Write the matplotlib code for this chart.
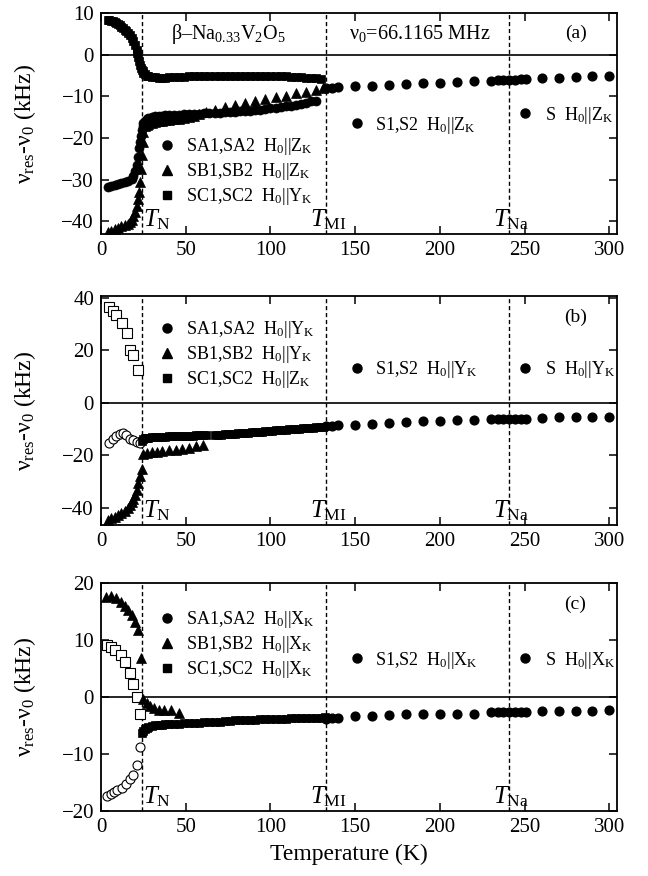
import matplotlib
matplotlib.use('Agg')
import matplotlib.pyplot as plt
import matplotlib.transforms as mtransforms
from matplotlib.lines import Line2D

plt.rcParams['font.family'] = ['Liberation Serif', 'DejaVu Serif']
plt.rcParams['mathtext.fontset'] = 'custom'
plt.rcParams['mathtext.rm'] = 'Liberation Serif'
plt.rcParams['mathtext.it'] = 'Liberation Serif:italic'
plt.rcParams['mathtext.bf'] = 'Liberation Serif:bold'

# transition temperatures (K): T_N, T_MI, T_Na
T_trans = [24, 133, 241]
trans_names = ['$T_\\mathrm{N}$', '$T_\\mathrm{MI}$', '$T_\\mathrm{Na}$']

# high temperature lines (S1,S2 and S), same temperatures in all panels
T_S = [133, 136.5, 140, 150, 160, 170, 180, 190, 200, 210, 220, 230, 234, 237.5,
       241, 244.5, 248, 251, 260, 270, 280, 290, 300]

# ---- panel (a) ----
T_SA_a = [4, 6, 8, 10, 12, 14, 16, 18, 19, 20, 21, 22, 22.5, 23, 23.5, 24, 24.5, 25, 26, 27,
          28, 30, 32, 34, 36, 38, 40, 43, 46, 49, 52, 55, 58, 61, 64, 67, 70, 73, 76, 79,
          82, 85, 88, 91, 94, 97, 100, 103, 106, 109, 112, 115, 118, 121, 124, 127]
v_SA_a = [-31.8, -31.5, -31.3, -31.0, -30.8, -30.6, -30.3, -29.8, -29.0, -28.0,
          -26.5, -24.5, -22.5, -21.0, -19.5, -18.0, -17.2, -16.5, -15.8, -15.4,
          -15.2, -14.9, -14.8, -14.7, -14.6, -14.5, -14.5, -14.4, -14.4, -14.3,
          -14.3, -14.2, -14.2, -14.1, -14.0, -14.0, -13.9, -13.8, -13.8, -13.7,
          -13.6, -13.5, -13.4, -13.3, -13.2, -13.0, -12.9, -12.8, -12.6, -12.4,
          -12.2, -12.0, -11.8, -11.5, -11.2, -11.0]
T_SB_a = [4, 6, 8, 10, 12, 14, 16, 17, 18, 19, 20, 21, 22, 22.5, 23, 23.5, 24, 24.5, 25, 26,
          27, 28, 30, 32, 34, 36, 38, 40, 43, 46, 49, 52, 55, 58, 62, 67, 73, 79, 85, 91,
          97, 103, 109, 115, 121, 127, 131]
v_SB_a = [-42.6, -42.2, -41.8, -41.5, -41.2, -40.8, -40.5, -40.2, -39.6, -38.8,
          -37.8, -36.4, -34.5, -33.0, -30.5, -27.5, -24.0, -21.0, -18.5, -17.2,
          -16.8, -16.6, -16.3, -16.1, -15.9, -15.8, -15.7, -15.6, -15.5, -15.4,
          -15.2, -15.0, -14.7, -14.3, -13.8, -13.2, -12.5, -12.0, -11.5, -11.0,
          -10.6, -10.2, -9.8, -9.3, -8.9, -8.4, -7.9]
T_SC_a = [4, 5, 6, 7, 8, 9, 10, 11, 12, 13, 14, 15, 16, 17, 18, 19, 20, 21, 21.5, 22,
          22.5, 23, 23.5, 24, 24.5, 25, 26, 27, 28, 30, 32, 34, 36, 38, 40, 43, 46, 49, 52, 55,
          58, 61, 64, 67, 70, 73, 76, 79, 82, 85, 88, 91, 94, 97, 100, 103, 106, 109, 112, 115,
          118, 121, 124, 127, 130]
v_SC_a = [8.3, 8.2, 8.1, 8.0, 7.8, 7.6, 7.3, 7.0, 6.7, 6.4,
          6.0, 5.6, 5.1, 4.6, 4.0, 3.2, 2.3, 1.2, 0.4, -0.5,
          -1.5, -2.4, -3.1, -3.6, -4.0, -4.3, -4.7, -5.0, -5.1, -5.3,
          -5.4, -5.5, -5.5, -5.5, -5.4, -5.4, -5.3, -5.3, -5.2, -5.2,
          -5.2, -5.1, -5.1, -5.1, -5.1, -5.1, -5.0, -5.0, -5.0, -5.0,
          -5.0, -5.0, -5.1, -5.1, -5.1, -5.1, -5.2, -5.2, -5.3, -5.3,
          -5.4, -5.5, -5.6, -5.7, -5.8]
v_S_a = [-7.9, -7.9, -7.8, -7.6, -7.4, -7.2, -7.0, -6.9, -6.7, -6.5, -6.3, -6.2,
         -6.1, -6.1, -6.0, -6.0, -5.9, -5.9, -5.7, -5.5, -5.4, -5.2, -5.1]

# ---- panel (b) ----
T_SAo_b = [5, 7, 9, 11, 13, 15, 17, 19, 21, 23]
v_SAo_b = [-15.4, -13.8, -12.8, -12.0, -11.4, -12.4, -13.6, -14.3, -14.8, -15.2]
T_SCo_b = [5, 7, 9, 12.5, 15.5, 17, 19, 22]
v_SCo_b = [36.7, 34.8, 33.5, 30.4, 26.8, 20.2, 18.3, 12.6]
T_SB_b = [4, 6, 8, 10, 12, 14, 16, 17, 18, 19, 20, 21, 22, 23, 24,
          25, 27, 30, 33, 36, 40, 44, 48, 52, 56, 60]
v_SB_b = [-44.6, -44.0, -43.4, -42.8, -42.0, -41.2, -40.0, -39.0, -37.8, -36.5,
          -35.0, -33.0, -30.6, -28.0, -25.0, -19.3, -19.0, -18.8, -18.6, -18.4,
          -18.1, -17.8, -17.4, -17.0, -16.6, -16.2]
T_SC_b = [24, 25, 26, 27, 28, 30, 32, 34, 36, 38, 40, 42, 44, 46, 48, 50, 52, 54, 56, 58,
          60, 62, 67, 69, 71, 73, 75, 77, 79, 81, 83, 85, 87, 89, 91, 93, 95, 97, 99, 101,
          103, 105, 107, 109, 111, 113, 115, 117, 119, 121, 123, 125, 127, 129, 131]
v_SC_b = [-14.5, -13.6, -13.4, -13.3, -13.2, -13.1, -13.0, -13.0, -12.9, -12.9,
          -12.8, -12.8, -12.7, -12.7, -12.6, -12.6, -12.5, -12.5, -12.4, -12.4,
          -12.3, -12.3, -12.3, -12.2, -12.1, -12.0, -11.9, -11.8, -11.7, -11.6,
          -11.5, -11.4, -11.3, -11.2, -11.1, -11.0, -10.9, -10.8, -10.7, -10.6,
          -10.5, -10.4, -10.3, -10.2, -10.1, -10.0, -9.9, -9.8, -9.7, -9.6,
          -9.5, -9.4, -9.3, -9.2, -9.1]
v_S_b = [-8.9, -8.8, -8.6, -8.4, -8.1, -7.6, -7.2, -7.0, -6.8, -6.7, -6.4, -6.2,
         -6.2, -6.2, -6.1, -6.1, -6.1, -6.0, -5.7, -5.5, -5.4, -5.3, -5.2]

# ---- panel (c) ----
T_SAo_c = [3.3, 5.7, 7.6, 9.6, 12.2, 14.7, 17.1, 19, 21, 23]
v_SAo_c = [-17.4, -17.0, -16.7, -16.4, -16.0, -15.3, -14.4, -13.7, -11.9, -8.8]
T_SCo_c = [3.5, 6, 8.5, 12, 14, 17, 19, 21, 23]
v_SCo_c = [9.1, 8.7, 8.2, 7.4, 6.2, 4.2, 2.3, 0.05, -2.9]
T_SB_c = [3, 6, 9, 12, 14, 16, 18, 20, 22, 23.5, 25, 27, 29, 31, 34, 37, 41, 46]
v_SB_c = [17.6, 17.8, 17.3, 16.7, 15.9, 15.3, 14.4, 13.2, 11.8, 6.8,
          -0.4, -1.1, -1.5, -1.9, -2.2, -2.3, -2.3, -2.8]
T_SC_c = [24, 25, 26, 27, 28, 30, 32, 34, 36, 38, 40, 43, 46, 49, 52, 55, 58, 61, 64, 67,
          70, 73, 76, 79, 82, 85, 88, 91, 94, 97, 100, 103, 106, 109, 112, 115, 118, 121, 124, 127,
          130, 132]
v_SC_c = [-6.4, -6.0, -5.7, -5.5, -5.3, -5.1, -5.0, -4.9, -4.9, -4.8,
          -4.8, -4.7, -4.7, -4.6, -4.6, -4.5, -4.5, -4.4, -4.4, -4.3,
          -4.3, -4.2, -4.2, -4.1, -4.1, -4.0, -4.0, -4.0, -3.9, -3.9,
          -3.9, -3.8, -3.8, -3.8, -3.7, -3.7, -3.7, -3.7, -3.6, -3.6,
          -3.6, -3.5]
v_S_c = [-3.8, -3.7, -3.6, -3.4, -3.3, -3.1, -3.0, -2.9, -2.9, -2.9, -2.9, -2.7,
         -2.7, -2.7, -2.7, -2.7, -2.7, -2.6, -2.4, -2.4, -2.4, -2.4, -2.2]

legend_a = ['SA1,SA2  H$_0$||Z$_\\mathrm{K}$', 'SB1,SB2  H$_0$||Z$_\\mathrm{K}$', 'SC1,SC2  H$_0$||Y$_\\mathrm{K}$']
legend_b = ['SA1,SA2  H$_0$||Y$_\\mathrm{K}$', 'SB1,SB2  H$_0$||Y$_\\mathrm{K}$', 'SC1,SC2  H$_0$||Z$_\\mathrm{K}$']
legend_c = ['SA1,SA2  H$_0$||X$_\\mathrm{K}$', 'SB1,SB2  H$_0$||X$_\\mathrm{K}$', 'SC1,SC2  H$_0$||X$_\\mathrm{K}$']

fig = plt.figure(figsize=(6.48, 8.76), dpi=100)
ax_a = fig.add_axes([0.1559, 0.7329, 0.7963, 0.2523])
ax_b = fig.add_axes([0.1559, 0.4007, 0.7963, 0.2614])
ax_c = fig.add_axes([0.1559, 0.0742, 0.7963, 0.2603])

LEG_FS = 13


def style_axes(ax, ylim, yticks):
    ax.set_xlim(0, 304.5)
    ax.set_ylim(*ylim)
    ax.set_xticks([0, 50, 100, 150, 200, 250, 300])
    ax.set_yticks(yticks)
    ax.tick_params(direction='in', top=True, right=True, length=6, width=1.1,
                   labelsize=15, pad=5)
    for s in ax.spines.values():
        s.set_linewidth(1.3)
    ax.axhline(0, color='k', lw=1.2, zorder=1)
    for t in T_trans:
        ax.axvline(t, color='k', lw=1.0, dashes=(3, 2), zorder=1)
    ax.set_ylabel('ν$_\\mathrm{res}$-ν$_0$ (kHz)', fontsize=17)
    ax.yaxis.set_label_coords(-0.122, 0.5)
    tr = mtransforms.blended_transform_factory(ax.transData, ax.transAxes)
    ax.text(T_trans[0] + 1, 0.01, trans_names[0], transform=tr, fontsize=18,
            ha='left', va='bottom')
    for t, name in zip(T_trans[1:], trans_names[1:]):
        ax.text(t + 1, 0.01, name, transform=tr, fontsize=18, ha='center', va='bottom')


def add_legends(ax, labels, ypos, name, y12, y_s):
    handles = [Line2D([], [], ls='none', marker=m, color='k', ms=s)
               for m, s in (('o', 6.5), ('^', 7), ('s', 5.5))]
    leg = ax.legend(handles, labels, loc='upper left', bbox_to_anchor=(0.11, ypos),
                    frameon=False, fontsize=LEG_FS, handlelength=1.0, handletextpad=0.55,
                    labelspacing=0.22, borderpad=0, borderaxespad=0)
    ax.add_artist(leg)
    dot = [Line2D([], [], ls='none', marker='o', color='k', ms=6.5)]
    leg2 = ax.legend(dot, ['S1,S2  H$_0$||%s$_\\mathrm{K}$' % name], loc='center left',
                     bbox_to_anchor=(0.479, y12), frameon=False, fontsize=LEG_FS,
                     handlelength=1.0, handletextpad=0.5, borderpad=0, borderaxespad=0)
    ax.add_artist(leg2)
    # the last one stays as the axes' own legend (drawn once)
    ax.legend(dot, ['S  H$_0$||%s$_\\mathrm{K}$' % name], loc='center left',
              bbox_to_anchor=(0.804, y_s), frameon=False, fontsize=LEG_FS,
              handlelength=1.0, handletextpad=0.6, borderpad=0, borderaxespad=0)


# panel (a)
style_axes(ax_a, (-43, 10), [-40, -30, -20, -10, 0, 10])
ax_a.plot(T_SB_a, v_SB_a, ls='none', marker='^', color='k', ms=7, mew=0.5)
ax_a.plot(T_SA_a, v_SA_a, ls='none', marker='o', color='k', ms=6.5, mew=0.5)
ax_a.plot(T_SC_a, v_SC_a, ls='none', marker='s', color='k', ms=5.5, mew=0.5)
ax_a.plot(T_S, v_S_a, ls='none', marker='o', color='k', ms=6.3)
add_legends(ax_a, legend_a, 0.443, 'Z', 0.493, 0.538)
ax_a.text(75, 5, 'β–Na$_{0.33}$V$_2$O$_5$', fontsize=14.5, ha='center', va='center')
ax_a.text(188, 5, 'ν$_0$=66.1165 MHz', fontsize=14.5, ha='center', va='center')
ax_a.text(280, 5, '(a)', fontsize=14, ha='center', va='center')

# panel (b)
style_axes(ax_b, (-46.5, 40.7), [-40, -20, 0, 20, 40])
ax_b.plot(T_SCo_b, v_SCo_b, ls='none', marker='s', mfc='white', mec='k', ms=7, mew=0.8)
ax_b.plot(T_SAo_b, v_SAo_b, ls='none', marker='o', mfc='white', mec='k', ms=6.5, mew=0.8)
ax_b.plot(T_SB_b, v_SB_b, ls='none', marker='^', color='k', ms=7, mew=0.5)
ax_b.plot(T_SC_b, v_SC_b, ls='none', marker='s', color='k', ms=5.5, mew=0.5)
ax_b.plot(T_S, v_S_b, ls='none', marker='o', color='k', ms=6.3)
add_legends(ax_b, legend_b, 0.90, 'Y', 0.677, 0.677)
ax_b.text(280, 32.4, '(b)', fontsize=14, ha='center', va='center')

# panel (c)
style_axes(ax_c, (-20, 20), [-20, -10, 0, 10, 20])
ax_c.plot(T_SCo_c, v_SCo_c, ls='none', marker='s', mfc='white', mec='k', ms=7, mew=0.8)
ax_c.plot(T_SAo_c, v_SAo_c, ls='none', marker='o', mfc='white', mec='k', ms=6.5, mew=0.8)
ax_c.plot(T_SB_c, v_SB_c, ls='none', marker='^', color='k', ms=7, mew=0.5)
ax_c.plot(T_SC_c, v_SC_c, ls='none', marker='s', color='k', ms=5.5, mew=0.5)
ax_c.plot(T_S, v_S_c, ls='none', marker='o', color='k', ms=6.3)
add_legends(ax_c, legend_c, 0.886, 'X', 0.662, 0.662)
ax_c.text(280, 16.3, '(c)', fontsize=14, ha='center', va='center')
ax_c.set_xlabel('Temperature (K)', fontsize=17)
ax_c.xaxis.set_label_coords(0.48, -0.145)

fig.savefig('out.png', dpi=100)
